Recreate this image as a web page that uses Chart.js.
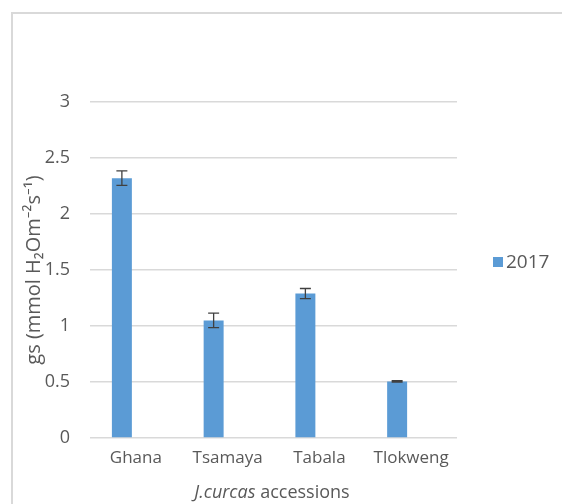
<!DOCTYPE html>
<html>
<head>
<meta charset="utf-8">
<script src="https://cdn.jsdelivr.net/npm/chart.js@4"></script>
<style>
  html, body { margin: 0; padding: 0; background: #fff; }
  #wrap { position: relative; width: 562px; height: 504px; overflow: hidden; }
  #frame { position: absolute; left: 11px; top: 12px; width: 600px; height: 600px;
           border-left: 2px solid #d9d9d9; border-top: 2px solid #d9d9d9; }
  canvas { position: absolute; left: 0; top: 0; }
</style>
</head>
<body>
<div id="wrap">
  <div id="frame"></div>
  <canvas id="myChart" width="562" height="504"></canvas>
</div>
<script>
const accessions = ['Ghana', 'Tsamaya', 'Tabala', 'Tlokweng'];
const gs2017 = [2.32, 1.05, 1.29, 0.505];
const err2017 = [0.065, 0.065, 0.045, 0.006];
const yTicks = [0, 0.5, 1, 1.5, 2, 2.5, 3];

const fontName = '"Open Sans", "Noto Sans", sans-serif';
const textColor = '#595959';

const errorBars = {
  id: 'errorBars',
  afterDatasetsDraw(chart) {
    const c = chart.ctx;
    const meta = chart.getDatasetMeta(0);
    const y = chart.scales.y;
    c.save();
    c.strokeStyle = '#404040';
    c.lineWidth = 1.3;
    meta.data.forEach((bar, i) => {
      const top = y.getPixelForValue(gs2017[i] + err2017[i]);
      const bot = y.getPixelForValue(gs2017[i] - err2017[i]);
      c.beginPath();
      c.moveTo(bar.x, top); c.lineTo(bar.x, bot);
      c.moveTo(bar.x - 5.5, top); c.lineTo(bar.x + 5.5, top);
      c.moveTo(bar.x - 5.5, bot); c.lineTo(bar.x + 5.5, bot);
      c.stroke();
    });
    c.restore();
  }
};

const titlesAndLegend = {
  id: 'titlesAndLegend',
  afterDraw(chart) {
    const c = chart.ctx;
    const area = chart.chartArea;
    c.save();
    c.fillStyle = textColor;
    c.textBaseline = 'middle';

    // y axis title
    c.save();
    c.translate(34, (area.top + area.bottom) / 2);
    c.rotate(-Math.PI / 2);
    c.textAlign = 'center';
    c.font = '20px ' + fontName;
    c.fillText('gs (mmol H\u2082Om\u207B\u00B2s\u207B\u00B9)', 0, 0);
    c.restore();

    // x axis title, partly italic
    const part1 = 'J.curcas';
    const part2 = ' accessions';
    c.font = 'italic 18px ' + fontName;
    const w1 = c.measureText(part1).width;
    c.font = '18px ' + fontName;
    const w2 = c.measureText(part2).width;
    const x0 = 272 - (w1 + w2) / 2;
    c.textAlign = 'left';
    c.font = 'italic 18px ' + fontName;
    c.fillText(part1, x0, 493);
    c.font = '18px ' + fontName;
    c.fillText(part2, x0 + w1, 493);

    // legend
    c.fillStyle = '#5b9bd5';
    c.fillRect(493, 257, 10, 10);
    c.fillStyle = textColor;
    c.font = '19px ' + fontName;
    c.fillText(chart.data.datasets[0].label, 506, 263);
    c.restore();
  }
};

new Chart(document.getElementById('myChart'), {
  type: 'bar',
  data: {
    labels: accessions,
    datasets: [
      { label: '2017', data: gs2017, backgroundColor: '#5b9bd5' },
      { label: '', data: accessions.map(() => null), backgroundColor: 'transparent' }
    ]
  },
  options: {
    responsive: false,
    animation: false,
    devicePixelRatio: 1,
    layout: { padding: { left: 0, right: 105, top: 102, bottom: 0 } },
    plugins: { legend: { display: false }, tooltip: { enabled: false } },
    datasets: { bar: { categoryPercentage: 0.61, barPercentage: 0.714 } },
    scales: {
      x: {
        grid: { display: false, drawTicks: false },
        border: { display: false },
        ticks: { color: textColor, font: { family: fontName, size: 17 }, padding: 10, maxRotation: 0 },
        afterFit(s) { s.height = 66; }
      },
      y: {
        min: 0, max: 3,
        afterBuildTicks(s) { s.ticks = yTicks.map(v => ({ value: v })); },
        grid: { color: '#d9d9d9', lineWidth: 1.5, drawTicks: false },
        border: { display: false },
        ticks: {
          color: textColor, font: { family: fontName, size: 18 }, padding: 20,
          callback: v => String(v)
        },
        afterFit(s) { s.width = 90; }
      }
    }
  },
  plugins: [errorBars, titlesAndLegend]
});
</script>
</body>
</html>
